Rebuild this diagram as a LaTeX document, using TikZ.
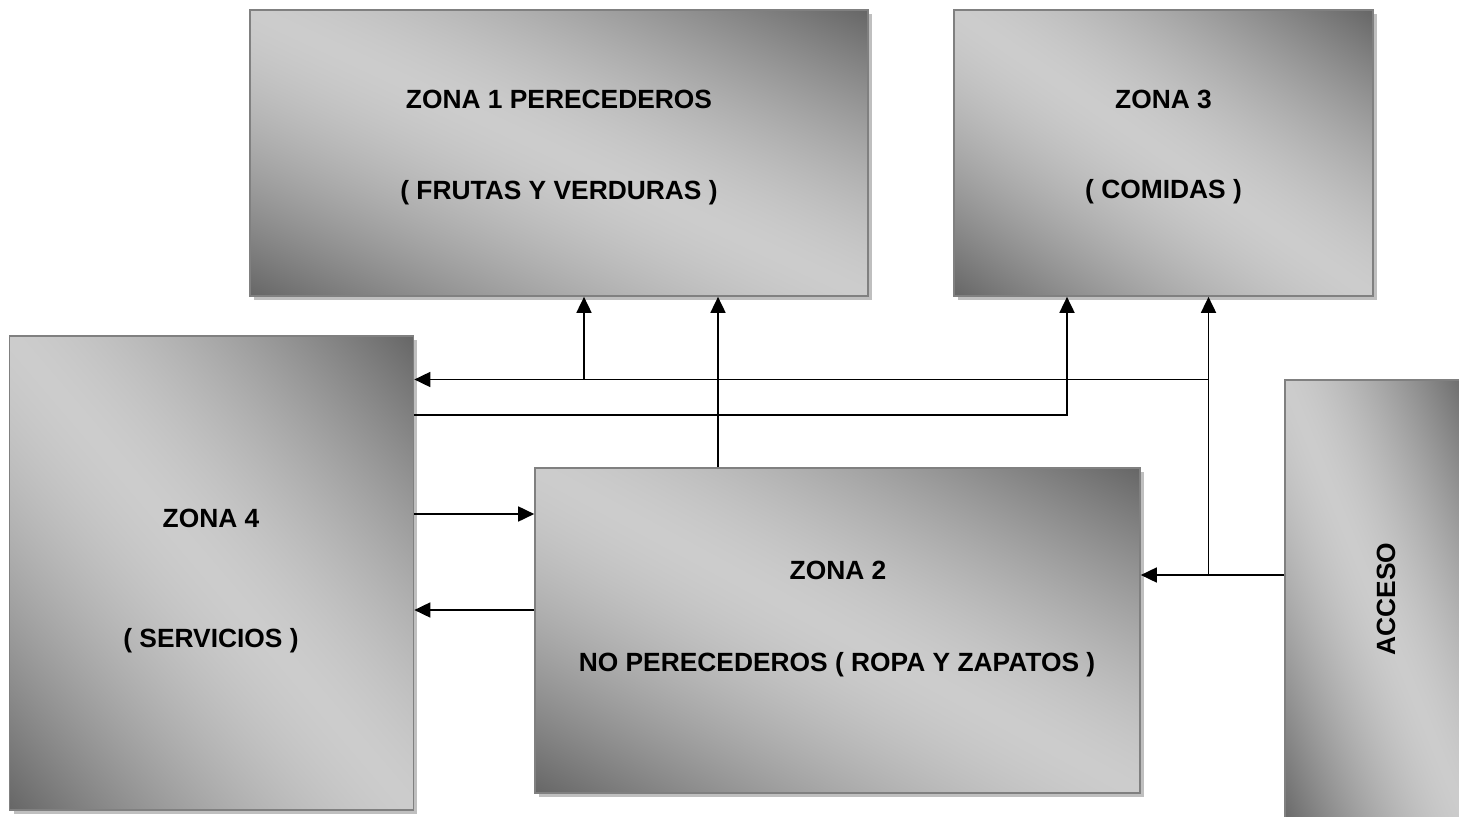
\documentclass[tikz,border=0pt]{standalone}
\usepackage{fontspec}
\setmainfont{Liberation Sans}
\usetikzlibrary{arrows.meta,shadows}

% gris claro en la diagonal, oscuro en las esquinas
\pgfdeclarefunctionalshading{zonashade}{\pgfpoint{0bp}{0bp}}{\pgfpoint{100bp}{100bp}}{}{
add 100 sub abs 50 div dup sqrt mul 0.4 mul 0.8 exch sub dup dup
}

\begin{document}
\begin{tikzpicture}[x=0.02cm,y=-0.02cm,font=\bfseries\fontsize{15}{18}\selectfont,>={Triangle[length=0.32cm,width=0.3cm]},zona/.style={draw=black!50, line width=1pt, inner sep=0pt, shade, shading=zonashade, drop shadow={opacity=1, fill=black!25, shadow xshift=0.08cm, shadow yshift=-0.08cm}},arrow/.style={->, line width=1pt}]
\useasboundingbox (0,0) rectangle (1459,817);
\clip (0,0) rectangle (1459,817);
% zonas
\node[zona, minimum width=12.36cm, minimum height=5.72cm] (z1) at (559,153) {};
\node[zona, minimum width=8.38cm, minimum height=5.72cm] (z3) at (1163.5,153) {};
\node[zona, minimum width=8.08cm, minimum height=9.48cm] (z4) at (211.5,573) {};
\node[zona, minimum width=12.1cm, minimum height=6.5cm] (z2) at (837.5,630.5) {};
\node[zona, minimum width=3.7cm, minimum height=9.0cm] (acc) at (1377.5,605) {};
% textos
\node (t1a) at (559,99) {ZONA 1 PERECEDEROS};
\node (t1b) at (559,193) {( FRUTAS Y VERDURAS )};
\node (t3a) at (1163.5,99) {ZONA 3};
\node (t3b) at (1163.5,192) {( COMIDAS )};
\node (t4a) at (211,518) {ZONA 4};
\node (t4b) at (211,641) {( SERVICIOS )};
\node (t2a) at (838,570) {ZONA 2};
\node (t2b) at (837,665) {NO PERECEDEROS ( ROPA Y ZAPATOS )};
\node[rotate=90] (tacc) at (1386,599) {ACCESO};
% conexiones
\coordinate (j1) at (1208.5,379.5);
\coordinate (j2) at (1208.5,575);
\coordinate (b1) at (584,379.5);
\coordinate (b2) at (718,468);
\coordinate (c1) at (1067,415);
\draw[arrow] (acc.west |- j2) -- (j2 -| z2.east);
\draw[arrow] (j2) -- (j2 |- z3.south);
\draw[arrow] (j1) -- (j1 -| z4.east);
\draw[arrow] (b1) -- (b1 |- z1.south);
\draw[arrow] (b2 |- z2.north) -- (b2 |- z1.south);
\draw[arrow] (c1 -| z4.east) -- (c1) -- (c1 |- z3.south);
\draw[arrow] (z4.east |- 0,514) -- (z2.west |- 0,514);
\draw[arrow] (z2.west |- 0,610) -- (z4.east |- 0,610);
\end{tikzpicture}
\end{document}
